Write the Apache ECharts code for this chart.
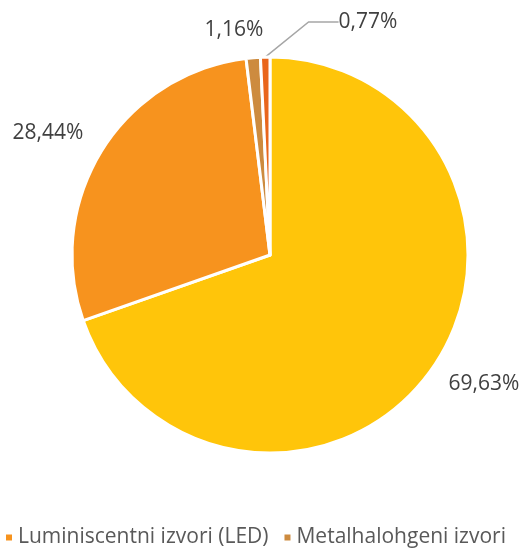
<!DOCTYPE html>
<html>
<head>
<meta charset="utf-8">
<style>html,body{margin:0;padding:0;background:#fff;}#c{width:524px;height:549px;}</style>
<script src="https://cdn.jsdelivr.net/npm/echarts@6/dist/echarts.min.js"></script>
</head>
<body>
<div id="c"></div>
<script>
const categories = ['Natrijevi izvori', 'Luminiscentni izvori (LED)', 'Metalhalohgeni izvori', 'Živini izvori'];
const values = [69.63, 28.44, 1.16, 0.77];
const colors = ['#FFC50A', '#F7931E', '#CD8B3F', '#E9661C'];
const legendItems = ['Luminiscentni izvori (LED)', 'Metalhalohgeni izvori'];
const labelPos = [[484, 384], [48, 133], [234, 30], [368, 22]];

const chart = echarts.init(document.getElementById('c'));
chart.setOption({
  animation: false,
  color: colors,
  legend: {
    data: legendItems,
    left: -1,
    top: 522,
    icon: 'rect',
    itemWidth: 8,
    itemHeight: 8,
    itemGap: 14,
    textStyle: { fontFamily: 'Open Sans', fontSize: 21, color: '#595959' },
    selectedMode: false
  },
  series: [{
    type: 'pie',
    center: [270, 255],
    radius: 198,
    startAngle: 90,
    clockwise: true,
    itemStyle: { borderColor: '#fff', borderWidth: 3 },
    label: {
      show: true,
      fontFamily: 'Open Sans',
      fontSize: 21,
      color: '#404040',
      overflow: 'none',
      alignTo: 'none',
      formatter: p => p.value.toFixed(2).replace('.', ',') + '%'
    },
    labelLine: { show: false },
    labelLayout: p => ({ x: labelPos[p.dataIndex][0], y: labelPos[p.dataIndex][1], align: 'center', verticalAlign: 'middle', width: 120 }),
    data: categories.map((n, i) => ({
      name: n,
      value: values[i],
      labelLine: i === 3 ? { show: true, lineStyle: { color: '#A6A6A6', width: 1.5 } } : undefined
    }))
  }]
});
</script>
</body>
</html>
